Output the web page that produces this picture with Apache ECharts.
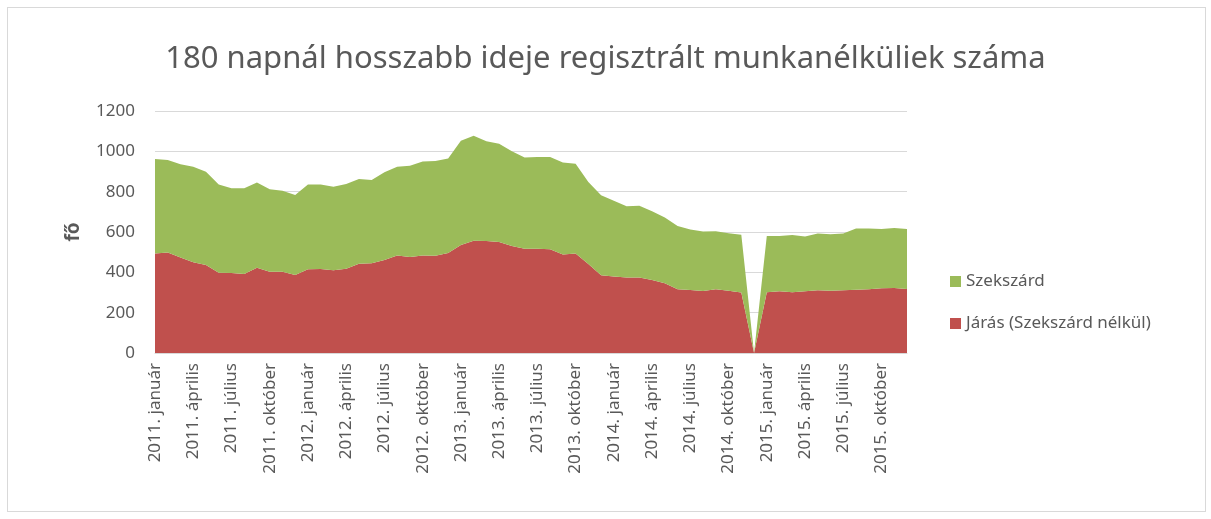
<!DOCTYPE html>
<html>
<head>
<meta charset="utf-8">
<script src="https://cdn.jsdelivr.net/npm/echarts@6/dist/echarts.min.js"></script>
<style>
  html, body { margin: 0; padding: 0; background: #fff; }
  #frame { position: absolute; left: 7px; top: 7px; width: 1197px; height: 503px; border: 1px solid #d9d9d9; }
  #chart { width: 1211px; height: 519px; position: absolute; left: 0; top: 0; }
</style>
</head>
<body>
<div id="frame"></div>
<div id="chart"></div>
<script>
var years = [2011, 2012, 2013, 2014, 2015];
var monthNames = ['január', 'február', 'március', 'április', 'május', 'június',
  'július', 'augusztus', 'szeptember', 'október', 'november', 'december'];
var months = [];
years.forEach(function (y) {
  monthNames.forEach(function (m) { months.push(y + '. ' + m); });
});

// Járás (Szekszárd nélkül)
var jarasData = [
  494, 498, 473, 450, 436, 398, 397, 392, 423, 403, 403, 387,
  415, 417, 410, 418, 443, 445, 461, 483, 476, 483, 482, 496,
  536, 557, 555, 550, 531, 517, 517, 514, 488, 494, 441, 385,
  379, 374, 374, 362, 346, 316, 312, 307, 316, 309, 300, 0,
  301, 306, 301, 306, 311, 309, 311, 314, 316, 321, 322, 317
];
// Szekszárd
var szekszardData = [
  468, 459, 463, 474, 463, 438, 420, 425, 422, 409, 401, 397,
  420, 419, 415, 420, 420, 413, 435, 441, 453, 466, 470, 469,
  517, 520, 495, 488, 469, 453, 455, 458, 457, 444, 407, 397,
  376, 354, 356, 341, 326, 314, 301, 295, 288, 285, 286, 0,
  279, 274, 284, 272, 281, 280, 281, 303, 301, 294, 298, 298
];

var myChart = echarts.init(document.getElementById('chart'));
var txt = '#595959';

var option = {
  animation: false,
  title: {
    text: '180 napnál hosszabb ideje regisztrált munkanélküliek száma',
    left: 'center',
    top: 39,
    textStyle: { color: txt, fontSize: 31, fontWeight: 'normal', fontFamily: 'Noto Sans, sans-serif' }
  },
  legend: {
    orient: 'vertical',
    left: 945,
    top: 268,
    itemGap: 25,
    itemWidth: 11,
    itemHeight: 11,
    icon: 'rect',
    data: ['Szekszárd', 'Járás (Szekszárd nélkül)'],
    textStyle: { color: txt, fontSize: 17, fontFamily: 'Noto Sans, sans-serif' }
  },
  grid: { left: 155, right: 304, top: 111, bottom: 166, containLabel: false },
  xAxis: {
    type: 'category',
    boundaryGap: false,
    data: months,
    axisLine: { lineStyle: { color: '#d9d9d9' } },
    axisTick: { show: false },
    axisLabel: {
      interval: 2,
      rotate: 90,
      color: txt,
      fontSize: 17,
      margin: 10,
      fontFamily: 'Noto Sans, sans-serif'
    }
  },
  yAxis: {
    type: 'value',
    min: 0,
    max: 1200,
    interval: 200,
    name: 'fő',
    nameLocation: 'middle',
    nameRotate: 90,
    nameGap: 72,
    nameTextStyle: { color: txt, fontSize: 19, fontWeight: 'bold', fontFamily: 'Noto Sans, sans-serif' },
    axisLine: { show: false },
    axisTick: { show: false },
    splitLine: { lineStyle: { color: '#d9d9d9', width: 1 } },
    axisLabel: {
      color: txt, fontSize: 17, margin: 20, fontFamily: 'Noto Sans, sans-serif',
      formatter: function (v) { return String(v); }
    }
  },
  series: [
    {
      name: 'Járás (Szekszárd nélkül)',
      type: 'line',
      stack: 'total',
      data: jarasData,
      showSymbol: false,
      lineStyle: { width: 0 },
      areaStyle: { color: '#C0504D', opacity: 1 },
      itemStyle: { color: '#C0504D' },
      emphasis: { disabled: true }
    },
    {
      name: 'Szekszárd',
      type: 'line',
      stack: 'total',
      data: szekszardData,
      showSymbol: false,
      lineStyle: { width: 0 },
      areaStyle: { color: '#9BBB59', opacity: 1 },
      itemStyle: { color: '#9BBB59' },
      emphasis: { disabled: true }
    }
  ]
};
myChart.setOption(option);
</script>
</body>
</html>
